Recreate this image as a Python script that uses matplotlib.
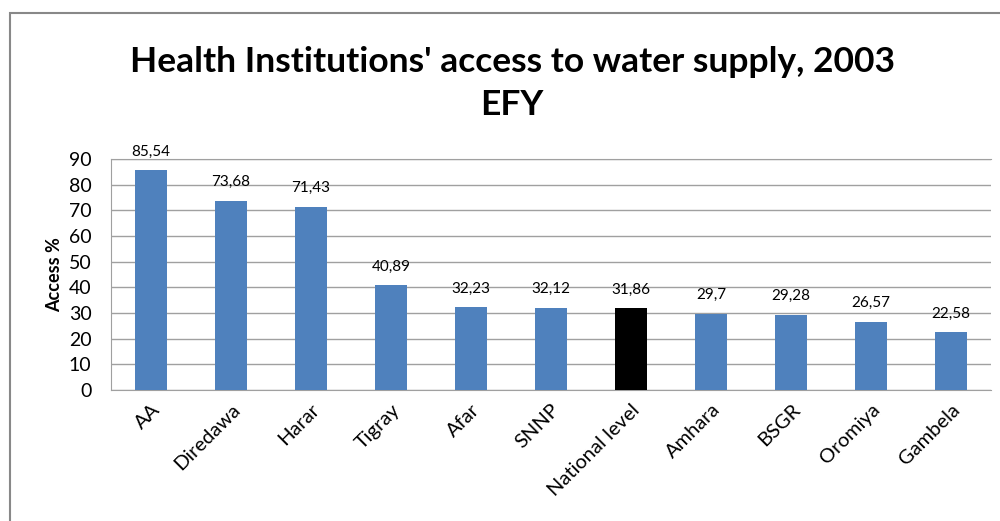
import matplotlib.pyplot as plt
from matplotlib.patches import Rectangle

regions = ["AA", "Diredawa", "Harar", "Tigray", "Afar", "SNNP", "National level",
           "Amhara", "BSGR", "Oromiya", "Gambela"]
access = [85.54, 73.68, 71.43, 40.89, 32.23, 32.12, 31.86, 29.7, 29.28, 26.57, 22.58]
value_labels = ["85,54", "73,68", "71,43", "40,89", "32,23", "32,12", "31,86",
                "29,7", "29,28", "26,57", "22,58"]

plt.rcParams['font.family'] = ['Lato', 'DejaVu Sans']

fig = plt.figure(figsize=(10, 5.21), dpi=100)

# --- outer chart border ------------------- #
fig.patches.append(Rectangle((0.010, -0.05), 1.1, 1.025, transform=fig.transFigure,
                             fill=False, edgecolor="#888888", linewidth=1.5))

ax = fig.add_axes([0.111, 0.2514, 0.880, 0.4434])

colors = ["black" if r == "National level" else "#4F81BD" for r in regions]
x = range(len(regions))
ax.bar(x, access, width=0.4, color=colors, zorder=3)

for i, (v, t) in enumerate(zip(access, value_labels)):
    ax.text(i, v + 4.5, t, ha="center", va="bottom", fontsize=11)

ax.set_xlim(-0.5, len(regions) - 0.5)
ax.set_ylim(0, 90)
ax.set_yticks(range(0, 91, 10))
ax.yaxis.grid(True, color="#A0A0A0", linewidth=1, zorder=0)
ax.tick_params(axis="y", length=0, labelsize=14, pad=14)
ax.tick_params(axis="x", length=0, labelsize=14.5, pad=8)
ax.set_xticks(list(x))
ax.set_xticklabels(regions, rotation=45, ha="right", rotation_mode="anchor")

ax.spines["right"].set_visible(False)
for s in ["left", "top", "bottom"]:
    ax.spines[s].set_color("#A0A0A0")

ax.set_ylabel("Access %", fontsize=13, fontweight="bold", labelpad=4)

fig.text(0.512, 0.84, "Health Institutions' access to water supply, 2003\nEFY",
         ha="center", va="center", fontsize=25.5, fontweight="bold", linespacing=1.45)

plt.savefig("out.png", dpi=100)
